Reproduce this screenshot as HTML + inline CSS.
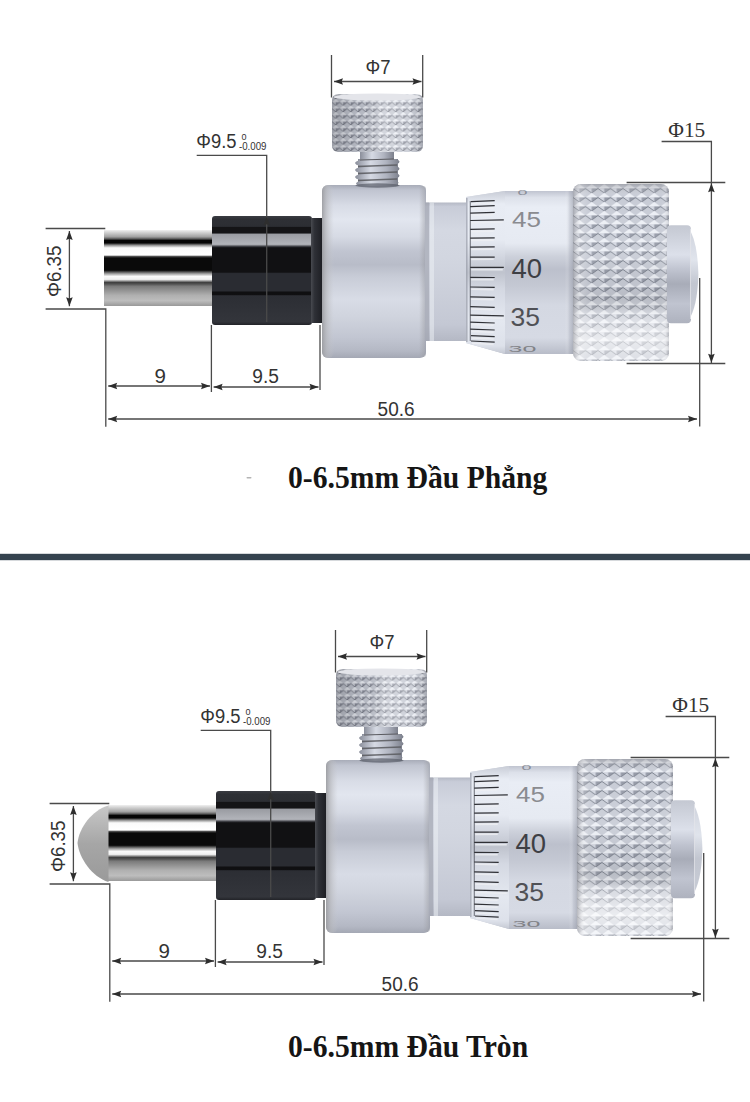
<!DOCTYPE html>
<html><head><meta charset="utf-8"><title>Micrometer head</title>
<style>
html,body{margin:0;padding:0;background:#fff;}
body{width:750px;height:1102px;overflow:hidden;position:relative;font-family:"Liberation Sans",sans-serif;}
svg{position:absolute;left:0;top:0;display:block;}
.title{position:absolute;left:288px;font-family:"Liberation Serif",serif;font-weight:bold;font-size:32.5px;color:#151515;white-space:nowrap;line-height:1;transform:scaleX(0.912);transform-origin:0 0;}
</style></head><body>
<svg width="750" height="1102" viewBox="0 0 750 1102">
<defs>
  <linearGradient id="gSpindle" x1="0" y1="0" x2="0" y2="1">
    <stop offset="0" stop-color="#f0f0f0"/>
    <stop offset="0.03" stop-color="#d4d4d4"/>
    <stop offset="0.09" stop-color="#a0a0a0"/>
    <stop offset="0.12" stop-color="#505050"/>
    <stop offset="0.135" stop-color="#050505"/>
    <stop offset="0.17" stop-color="#050505"/>
    <stop offset="0.20" stop-color="#909090"/>
    <stop offset="0.235" stop-color="#fafafa"/>
    <stop offset="0.33" stop-color="#ffffff"/>
    <stop offset="0.35" stop-color="#404040"/>
    <stop offset="0.37" stop-color="#0a0a0a"/>
    <stop offset="0.53" stop-color="#0a0a0a"/>
    <stop offset="0.57" stop-color="#909090"/>
    <stop offset="0.61" stop-color="#fafafa"/>
    <stop offset="0.65" stop-color="#f0f0f0"/>
    <stop offset="0.69" stop-color="#404040"/>
    <stop offset="0.71" stop-color="#505050"/>
    <stop offset="0.74" stop-color="#7a7a7a"/>
    <stop offset="0.86" stop-color="#b0b0b0"/>
    <stop offset="0.93" stop-color="#bdbdbd"/>
    <stop offset="0.97" stop-color="#a8a8a8"/>
    <stop offset="1" stop-color="#999999"/>
  </linearGradient>
  <linearGradient id="gCollar" x1="0" y1="0" x2="0" y2="1">
    <stop offset="0" stop-color="#3a3c42"/>
    <stop offset="0.03" stop-color="#2e3035"/>
    <stop offset="0.095" stop-color="#2c2e33"/>
    <stop offset="0.105" stop-color="#141416"/>
    <stop offset="0.155" stop-color="#141416"/>
    <stop offset="0.168" stop-color="#9a9ca2"/>
    <stop offset="0.26" stop-color="#b2b4ba"/>
    <stop offset="0.283" stop-color="#2a2b30"/>
    <stop offset="0.292" stop-color="#111113"/>
    <stop offset="0.515" stop-color="#111113"/>
    <stop offset="0.528" stop-color="#2a2c32"/>
    <stop offset="0.688" stop-color="#2a2c32"/>
    <stop offset="0.697" stop-color="#0f0f11"/>
    <stop offset="0.72" stop-color="#0f0f11"/>
    <stop offset="0.732" stop-color="#2c2e34"/>
    <stop offset="0.97" stop-color="#33353b"/>
    <stop offset="1" stop-color="#222328"/>
  </linearGradient>
  <linearGradient id="gRing" x1="0" y1="0" x2="1" y2="0">
    <stop offset="0" stop-color="#484a50"/>
    <stop offset="0.3" stop-color="#2e3036"/>
    <stop offset="1" stop-color="#1c1d22"/>
  </linearGradient>
  <linearGradient id="gBody" x1="0" y1="0" x2="0" y2="1">
    <stop offset="0" stop-color="#a8acb8"/>
    <stop offset="0.03" stop-color="#c0c4d0"/>
    <stop offset="0.12" stop-color="#d8dce6"/>
    <stop offset="0.2" stop-color="#e2e6ef"/>
    <stop offset="0.3" stop-color="#d6dae4"/>
    <stop offset="0.38" stop-color="#c1c5d1"/>
    <stop offset="0.46" stop-color="#b8bcc8"/>
    <stop offset="0.53" stop-color="#c8ccd7"/>
    <stop offset="0.66" stop-color="#d8dce6"/>
    <stop offset="0.76" stop-color="#d0d4de"/>
    <stop offset="0.88" stop-color="#c2c6d2"/>
    <stop offset="0.96" stop-color="#b4b8c4"/>
    <stop offset="1" stop-color="#a4a8b4"/>
  </linearGradient>
  <linearGradient id="gBodyRim" x1="0" y1="0" x2="1" y2="0">
    <stop offset="0" stop-color="#9a9b9f" stop-opacity="0.9"/>
    <stop offset="0.4" stop-color="#b4b5b9" stop-opacity="0.6"/>
    <stop offset="1" stop-color="#c8c9cd" stop-opacity="0"/>
  </linearGradient>
  <linearGradient id="gBodyRimR" x1="0" y1="0" x2="1" y2="0">
    <stop offset="0" stop-color="#9a9ba0" stop-opacity="0"/>
    <stop offset="0.6" stop-color="#9a9ba0" stop-opacity="0.35"/>
    <stop offset="1" stop-color="#8a8e9a" stop-opacity="0.5"/>
  </linearGradient>
  <linearGradient id="gNeck" x1="0" y1="0" x2="0" y2="1">
    <stop offset="0" stop-color="#b4b8c4"/>
    <stop offset="0.03" stop-color="#c8ccd8"/>
    <stop offset="0.2" stop-color="#d4d8e2"/>
    <stop offset="0.4" stop-color="#d2d6e0"/>
    <stop offset="0.65" stop-color="#cbcfda"/>
    <stop offset="0.88" stop-color="#c4c8d4"/>
    <stop offset="1" stop-color="#b4b8c4"/>
  </linearGradient>
  <linearGradient id="gThimble" x1="0" y1="0" x2="0" y2="1">
    <stop offset="0" stop-color="#c0c4d0"/>
    <stop offset="0.04" stop-color="#dde1ea"/>
    <stop offset="0.1" stop-color="#e9edf5"/>
    <stop offset="0.32" stop-color="#e6eaf2"/>
    <stop offset="0.4" stop-color="#cdd1db"/>
    <stop offset="0.48" stop-color="#bcc0cc"/>
    <stop offset="0.58" stop-color="#c4c8d3"/>
    <stop offset="0.7" stop-color="#d4d8e2"/>
    <stop offset="0.9" stop-color="#d6dae4"/>
    <stop offset="1" stop-color="#b8bcc8"/>
  </linearGradient>
  <linearGradient id="gBevel" x1="0" y1="0" x2="0" y2="1">
    <stop offset="0" stop-color="#c8ccd6"/>
    <stop offset="0.08" stop-color="#e8ecf4"/>
    <stop offset="0.3" stop-color="#e6eaf2"/>
    <stop offset="0.42" stop-color="#cfd3dd"/>
    <stop offset="0.5" stop-color="#c0c4ce"/>
    <stop offset="0.6" stop-color="#d4d8e2"/>
    <stop offset="0.8" stop-color="#e4e8f0"/>
    <stop offset="0.95" stop-color="#dde1ea"/>
    <stop offset="1" stop-color="#c4c8d2"/>
  </linearGradient>
  <linearGradient id="gCap" x1="0" y1="0" x2="0" y2="1">
    <stop offset="0" stop-color="#c4c8d2"/>
    <stop offset="0.3" stop-color="#dce0ea"/>
    <stop offset="0.45" stop-color="#c0c4d0"/>
    <stop offset="0.6" stop-color="#a8acb8"/>
    <stop offset="0.8" stop-color="#c0c4d0"/>
    <stop offset="1" stop-color="#aeb2be"/>
  </linearGradient>
  <linearGradient id="gDomeCap" x1="0" y1="0" x2="0" y2="1">
    <stop offset="0" stop-color="#ced2dc"/>
    <stop offset="0.35" stop-color="#e0e4ec"/>
    <stop offset="0.6" stop-color="#c2c6d0"/>
    <stop offset="1" stop-color="#c8ccd6"/>
  </linearGradient>
  <linearGradient id="gThimbleEdge" x1="0" y1="0" x2="1" y2="0">
    <stop offset="0" stop-color="#ffffff" stop-opacity="0"/>
    <stop offset="0.5" stop-color="#aeb2be" stop-opacity="0.4"/>
    <stop offset="1" stop-color="#8e929e" stop-opacity="0.6"/>
  </linearGradient>
  <linearGradient id="gKnurlShade" x1="0" y1="0" x2="0" y2="1">
    <stop offset="0" stop-color="#6a6b72" stop-opacity="0.4"/>
    <stop offset="0.07" stop-color="#ffffff" stop-opacity="0"/>
    <stop offset="0.4" stop-color="#ffffff" stop-opacity="0.08"/>
    <stop offset="0.58" stop-color="#000000" stop-opacity="0.04"/>
    <stop offset="0.74" stop-color="#ffffff" stop-opacity="0.3"/>
    <stop offset="0.88" stop-color="#ffffff" stop-opacity="0.62"/>
    <stop offset="1" stop-color="#ffffff" stop-opacity="0.35"/>
  </linearGradient>
  <linearGradient id="gKnurlSide" x1="0" y1="0" x2="1" y2="0">
    <stop offset="0" stop-color="#7a7b82" stop-opacity="0.45"/>
    <stop offset="0.08" stop-color="#ffffff" stop-opacity="0.2"/>
    <stop offset="0.16" stop-color="#ffffff" stop-opacity="0"/>
    <stop offset="0.92" stop-color="#ffffff" stop-opacity="0"/>
    <stop offset="1" stop-color="#8a8b92" stop-opacity="0.3"/>
  </linearGradient>
  <linearGradient id="gScrewShade" x1="0" y1="0" x2="1" y2="0">
    <stop offset="0" stop-color="#55565c" stop-opacity="0.35"/>
    <stop offset="0.3" stop-color="#55565c" stop-opacity="0.12"/>
    <stop offset="0.55" stop-color="#ffffff" stop-opacity="0.3"/>
    <stop offset="0.85" stop-color="#ffffff" stop-opacity="0.2"/>
    <stop offset="1" stop-color="#55565c" stop-opacity="0.25"/>
  </linearGradient>
  <linearGradient id="gThread" x1="0" y1="0" x2="1" y2="0">
    <stop offset="0" stop-color="#8a8e9a"/>
    <stop offset="0.35" stop-color="#d6dae4"/>
    <stop offset="0.7" stop-color="#b0b4c0"/>
    <stop offset="1" stop-color="#7c808c"/>
  </linearGradient>
  <linearGradient id="gDome" x1="0" y1="0" x2="0" y2="1">
    <stop offset="0" stop-color="#c8c8c8"/>
    <stop offset="0.5" stop-color="#a6a6a6"/>
    <stop offset="1" stop-color="#9a9a9a"/>
  </linearGradient>
  <pattern id="pKnurl" x="573" y="184" width="12.5" height="9" patternUnits="userSpaceOnUse">
    <rect width="12.5" height="9" fill="#c8ccd6"/>
    <path d="M0 4.5 L6.25 0 L12.5 4.5 Z" fill="#eceff5"/>
    <path d="M0 4.5 L6.25 4.5 L6.25 9 Z" fill="#d4d8e2"/>
    <path d="M6.25 4.5 L12.5 4.5 L6.25 9 Z" fill="#969ba8"/>
    <path d="M0 4.5 L6.25 9 L12.5 4.5" fill="none" stroke="#787d8a" stroke-width="0.9"/>
  </pattern>
  <pattern id="pKnurlS" x="332" y="99" width="7.5" height="6.5" patternUnits="userSpaceOnUse">
    <rect width="7.5" height="6.5" fill="#c2c6d0"/>
    <path d="M0 3.25 L3.75 0 L7.5 3.25 Z" fill="#eceff5"/>
    <path d="M0 3.25 L3.75 3.25 L3.75 6.5 Z" fill="#cdd1da"/>
    <path d="M3.75 3.25 L7.5 3.25 L3.75 6.5 Z" fill="#858996"/>
    <path d="M0 3.25 L3.75 6.5 L7.5 3.25" fill="none" stroke="#6a6e7a" stroke-width="0.8"/>
  </pattern>
  <marker id="aEnd" viewBox="0 0 10 8" refX="10" refY="4" markerWidth="9" markerHeight="7" markerUnits="userSpaceOnUse" orient="auto">
    <path d="M0 0 L10 4 L0 8 Z" fill="#333"/>
  </marker>
  <marker id="aStart" viewBox="0 0 10 8" refX="0" refY="4" markerWidth="9" markerHeight="7" markerUnits="userSpaceOnUse" orient="auto">
    <path d="M10 0 L0 4 L10 8 Z" fill="#333"/>
  </marker>

  <g id="mic">
    <!-- spindle -->
    <rect x="104" y="230" width="109" height="76" fill="url(#gSpindle)"/>
    <!-- collar -->
    <rect x="212" y="216" width="100" height="109" rx="3" fill="url(#gCollar)"/>
    <rect x="311" y="218" width="12" height="105" fill="url(#gRing)"/>
    <!-- body -->
    <rect x="322" y="185" width="104" height="173" rx="6" fill="url(#gBody)"/>
    <rect x="322" y="185" width="12" height="173" rx="6" fill="url(#gBodyRim)"/>
    <rect x="419" y="186" width="7" height="171" rx="3" fill="url(#gBodyRimR)"/>
    <!-- neck -->
    <rect x="425" y="202.5" width="45" height="138.5" fill="url(#gNeck)"/>
    <rect x="425" y="202.5" width="4" height="138.5" fill="#9ca0ac" opacity="0.6"/>
    <rect x="430" y="202.5" width="4" height="138.5" fill="#eef1f6" opacity="0.5"/>
    <!-- thimble -->
    <path d="M466 197 L505 191 L574 191 L574 354 L505 354 L466 343 Z" fill="url(#gThimble)"/>
    <path d="M466 197 L505 191 L505 354 L466 343 Z" fill="url(#gBevel)"/>
    <rect x="565" y="191" width="9" height="163" fill="url(#gThimbleEdge)"/>
    <text transform="translate(517.5,195) scale(1,0.35)" font-family="Liberation Sans" font-size="18" fill="#8a8e98">0</text>
    <!-- ticks -->
    <g stroke="#eeeff3" stroke-width="1.6" fill="none" opacity="0.8"><path d="M472 203.9 L493.7 202.9 M471.2 208.9 L493.7 208.0 M471.2 215.4 L493.7 214.6 M471.2 222.8 L502.8 222.1 M471.2 231.7 L493.7 231.1 M471.2 240.5 L493.7 240.1 M471.2 249.4 L493.7 249.1 M471.2 259.4 L493.7 259.3 M471.2 269.7 L502.8 269.7 M471.2 279.6 L493.7 279.8 M471.2 289.3 L493.7 289.6 M471.2 299.2 L493.7 299.6 M471.2 309.0 L493.7 309.6 M471.2 317.5 L502.8 318.2 M471.2 324.5 L493.7 325.3 M471.2 331.4 L493.7 332.3 M472 338.0 L493.7 339.0 M472 343.3 L493.7 344.4"/></g>
    <path d="M470.3 201 V341" stroke="#5a5d66" stroke-width="1.1" opacity="0.8"/>
    <path d="M466.8 198 V342" stroke="#9ea2ae" stroke-width="1.5" opacity="0.8"/>
    <g stroke="#303136" stroke-width="1.25" fill="none"><path d="M471 201.6 L494.7 200.6 M470.2 206.6 L494.7 205.7 M470.2 213.1 L494.7 212.3 M470.2 220.5 L503.8 219.8 M470.2 229.4 L494.7 228.8 M470.2 238.2 L494.7 237.8 M470.2 247.1 L494.7 246.8 M470.2 257.1 L494.7 257.0 M470.2 267.4 L503.8 267.4 M470.2 277.3 L494.7 277.5 M470.2 287.0 L494.7 287.3 M470.2 296.9 L494.7 297.3 M470.2 306.7 L494.7 307.3 M470.2 315.2 L503.8 315.9 M470.2 322.2 L494.7 323.0 M470.2 329.1 L494.7 330.0 M471 335.7 L494.7 336.7 M471 341.0 L494.7 342.1"/></g>
    <g font-family="Liberation Sans">
      <text transform="translate(512,226.9) scale(1,0.85)" font-size="26" fill="#8a8b90">45</text>
      <text transform="translate(511.5,277.7)" font-size="27.5" fill="#3e3f44">40</text>
      <text transform="translate(510.5,326.4)" font-size="26.5" fill="#505156">35</text>
      <text transform="translate(508.5,351.8) scale(1,0.38)" font-size="25" fill="#808186">30</text>
    </g>
    <!-- knurled knob -->
    <rect x="573" y="184" width="96" height="177" rx="8" fill="url(#pKnurl)"/>
    <rect x="573" y="184" width="96" height="177" rx="8" fill="url(#gKnurlShade)"/>
    <rect x="573" y="184" width="96" height="177" rx="8" fill="url(#gKnurlSide)"/>
    <!-- end cap -->
    <path d="M688 227 Q697.5 240 698.4 274 Q697.5 308 688 321 Z" fill="url(#gDomeCap)"/>
    <rect x="667" y="225.3" width="24" height="98" rx="4" fill="url(#gCap)"/>
    <path d="M690.5 229 V319" stroke="#e4e5ea" stroke-width="1" opacity="0.8"/>
    <!-- thumb screw thread -->
    <rect x="360" y="150" width="34" height="12" fill="url(#gThread)"/>
    <rect x="358" y="159" width="40" height="27" fill="url(#gThread)"/>
    <g fill="url(#gThread)">
      <path d="M355 163 Q356 160.5 360 160.5 L395 159.5 Q399 159.5 399.5 161.5 Q399 164 395 164.5 L360 165.5 Q356 165.5 355 163 Z"/>
      <path d="M355 170 Q356 167.5 360 167.5 L395 166.5 Q399 166.5 399.5 168.5 Q399 171 395 171.5 L360 172.5 Q356 172.5 355 170 Z"/>
      <path d="M355 177 Q356 174.5 360 174.5 L395 173.5 Q399 173.5 399.5 175.5 Q399 178 395 178.5 L360 179.5 Q356 179.5 355 177 Z"/>
      <path d="M356 183.5 Q357 181 361 181 L394 180.5 Q398 180.5 398.5 182.5 Q398 185 394 185.5 L361 186 Q357 186 356 183.5 Z"/>
    </g>
    <g stroke="#5d5e63" stroke-width="1.3" fill="none" opacity="0.9">
      <path d="M358 166.5 L397 165 M358 173.5 L397 172 M358 180.5 L397 179"/>
    </g>
    <path d="M360 160 L394 159" stroke="#5a5b60" stroke-width="1.2"/>
    <ellipse cx="377.5" cy="185.5" rx="22" ry="2.2" fill="#5a5e6a" opacity="0.7"/>
    <!-- thumb screw head -->
    <rect x="332" y="94" width="91" height="58" rx="6" fill="url(#pKnurlS)"/>
    <rect x="332" y="94" width="91" height="58" rx="6" fill="url(#gScrewShade)"/>
    <ellipse cx="377.5" cy="97" rx="44" ry="3.5" fill="#e4e5ea"/>

    <!-- dimension lines -->
    <g stroke="#4a4a4a" stroke-width="1.3" fill="none"><path d="M331.5 55 V97.5 M422.7 55 V97.5 M334 81.5 H421.5 M196.7 155.3 H266.7 V322 M45.6 228.5 H105.3 M45.6 309 H105.8 V426.7 M69.4 231 V306.2 M211.4 325 V392 M320 325 V390 M108.2 386 H210 M213.6 387 H318.5 M108.2 419 H697 M699.7 278 V426.6 M661.6 141.5 H711.4 V363.5 M626.6 182.5 H725.3 M626.6 363.5 H725.3"/></g>
    <path fill="#2e2e2e" d="M334.0 81.5 L343.0 78.2 L341.7 81.5 L343.0 84.8 Z M421.5 81.5 L412.5 84.8 L413.8 81.5 L412.5 78.2 Z M266.7 216.5 L270.0 225.5 L266.7 224.2 L263.4 225.5 Z M69.4 231.0 L72.7 240.0 L69.4 238.7 L66.1 240.0 Z M69.4 306.2 L66.1 297.2 L69.4 298.5 L72.7 297.2 Z M108.2 386.0 L117.2 382.7 L115.9 386.0 L117.2 389.3 Z M210.0 386.0 L201.0 389.3 L202.3 386.0 L201.0 382.7 Z M213.6 387.0 L222.6 383.7 L221.3 387.0 L222.6 390.3 Z M318.5 387.0 L309.5 390.3 L310.8 387.0 L309.5 383.7 Z M108.2 419.0 L117.2 415.7 L115.9 419.0 L117.2 422.3 Z M697.0 419.0 L688.0 422.3 L689.3 419.0 L688.0 415.7 Z M711.4 183.2 L714.7 192.2 L711.4 190.9 L708.1 192.2 Z M711.4 362.8 L708.1 353.8 L711.4 355.1 L714.7 353.8 Z"/>
    <g font-family="Liberation Sans" fill="#333">
      <text x="365.6" y="73.7" font-size="20" textLength="25" lengthAdjust="spacingAndGlyphs">Φ7</text>
      <text x="196.3" y="147.9" font-size="19.5" textLength="40.2" lengthAdjust="spacingAndGlyphs">Φ9.5</text>
      <text x="241.6" y="140" font-size="9">0</text>
      <text x="239" y="149.6" font-size="10" textLength="27.5" lengthAdjust="spacingAndGlyphs">-0.009</text>
      <text x="154.6" y="383.3" font-size="20.5">9</text>
      <text x="252.3" y="383.2" font-size="20.5" textLength="26.6" lengthAdjust="spacingAndGlyphs">9.5</text>
      <text x="377.6" y="415.7" font-size="20.5" textLength="37" lengthAdjust="spacingAndGlyphs">50.6</text>
      <text transform="translate(61,297) rotate(-90)" font-size="20" textLength="51.5" lengthAdjust="spacingAndGlyphs">Φ6.35</text>
    </g>
    <text x="668.3" y="136.5" font-family="Liberation Serif" font-size="20.5" fill="#333" textLength="37" lengthAdjust="spacingAndGlyphs">Φ15</text>
  </g>
</defs>

<use href="#mic"/>
<use href="#mic" transform="translate(4,575)"/>
<!-- dome tip for bottom spindle -->
<path d="M108.5 805.5 C92 810 79 828 77.5 843 C79 858 92 877 108.5 882 Z" fill="url(#gDome)"/>
<rect x="246.5" y="477" width="5" height="1.4" rx="0.7" fill="#b4b4b4"/>
<!-- divider -->
<rect x="0" y="553.8" width="750" height="6.4" fill="#35434f"/>
</svg>
<div class="title" style="top:461px">0-6.5mm Đầu Phẳng</div>
<div class="title" style="top:1030px">0-6.5mm Đầu Tròn</div>
</body></html>
